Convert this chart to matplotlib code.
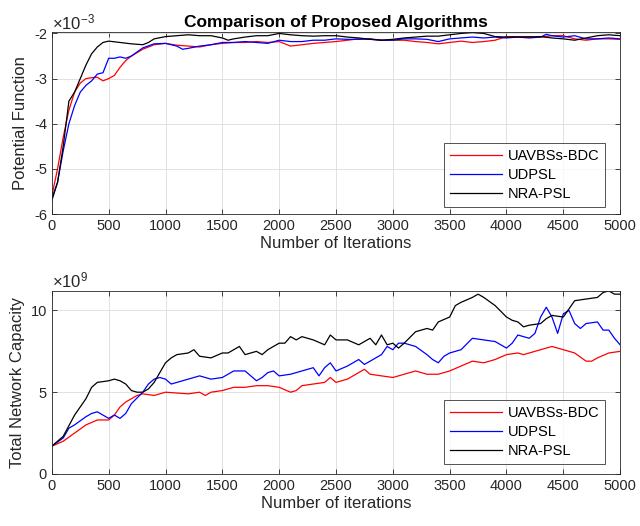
import matplotlib
matplotlib.use("Agg")
import matplotlib.pyplot as plt

plt.rcParams['font.family'] = ['Liberation Sans', 'DejaVu Sans']
plt.rcParams['mathtext.fontset'] = 'custom'
plt.rcParams['mathtext.rm'] = 'Liberation Sans'
plt.rcParams['mathtext.it'] = 'Liberation Sans'

# ---------------- data: top panel (Potential Function, x1e-3) ----------------
pf_red_x = [0, 50, 100, 150, 200, 250, 300, 350, 400, 450, 500, 550, 600, 650, 700,
            800, 900, 1000, 1100, 1200, 1300, 1400, 1500, 1600, 1700, 1800, 1900, 2000,
            2100, 2200, 2300, 2400, 2500, 2600, 2700, 2800, 2900, 3000, 3100, 3200,
            3300, 3400, 3500, 3600, 3700, 3800, 3900, 4000, 4100, 4200, 4300, 4400,
            4500, 4600, 4700, 4800, 4900, 5000]
pf_red_y = [-5.6, -5.0, -4.3, -3.7, -3.3, -3.1, -3.0, -2.98, -2.97, -3.05, -3.0, -2.93,
            -2.75, -2.6, -2.5, -2.35, -2.25, -2.22, -2.26, -2.28, -2.3, -2.25, -2.22,
            -2.2, -2.2, -2.18, -2.2, -2.18, -2.28, -2.25, -2.22, -2.2, -2.18, -2.15,
            -2.12, -2.13, -2.15, -2.15, -2.15, -2.18, -2.2, -2.23, -2.2, -2.17, -2.2,
            -2.18, -2.15, -2.07, -2.07, -2.07, -2.08, -2.05, -2.05, -2.12, -2.15,
            -2.12, -2.12, -2.13]

pf_blue_x = [0, 50, 100, 150, 200, 250, 300, 350, 400, 450, 500, 550, 600, 650, 700,
             800, 900, 1000, 1100, 1150, 1200, 1300, 1400, 1500, 1600, 1700, 1800, 1900,
             2000, 2100, 2200, 2300, 2400, 2500, 2600, 2700, 2800, 2900, 3000, 3100,
             3200, 3300, 3400, 3500, 3600, 3700, 3800, 3900, 4000, 4100, 4200, 4300,
             4350, 4400, 4500, 4600, 4700, 4800, 4900, 5000]
pf_blue_y = [-5.65, -5.3, -4.6, -4.0, -3.6, -3.3, -3.15, -3.05, -2.9, -2.87, -2.55,
             -2.55, -2.52, -2.55, -2.5, -2.32, -2.23, -2.22, -2.28, -2.35, -2.33, -2.28,
             -2.25, -2.2, -2.2, -2.18, -2.2, -2.22, -2.15, -2.18, -2.18, -2.15, -2.15,
             -2.12, -2.13, -2.13, -2.12, -2.15, -2.15, -2.12, -2.12, -2.13, -2.18,
             -2.12, -2.1, -2.08, -2.1, -2.08, -2.1, -2.08, -2.1, -2.08, -2.02, -2.05,
             -2.08, -2.05, -2.12, -2.12, -2.1, -2.12]

pf_black_x = [0, 25, 50, 100, 150, 200, 250, 300, 350, 400, 450, 500, 600, 700, 800,
              850, 900, 1000, 1100, 1200, 1300, 1400, 1500, 1550, 1600, 1700, 1800,
              1900, 2000, 2100, 2200, 2300, 2400, 2500, 2600, 2700, 2800, 2900, 3000,
              3100, 3200, 3300, 3400, 3500, 3600, 3700, 3800, 3900, 4000, 4100, 4200,
              4300, 4400, 4500, 4600, 4700, 4800, 4900, 5000]
pf_black_y = [-5.7, -5.5, -5.3, -4.5, -3.5, -3.3, -3.0, -2.7, -2.45, -2.3, -2.2, -2.17,
              -2.2, -2.23, -2.25, -2.2, -2.12, -2.07, -2.05, -2.03, -2.05, -2.05, -2.1,
              -2.15, -2.12, -2.08, -2.05, -2.05, -2.0, -2.03, -2.05, -2.06, -2.05,
              -2.05, -2.08, -2.1, -2.13, -2.15, -2.13, -2.1, -2.08, -2.06, -2.06,
              -2.03, -2.0, -1.98, -2.0, -2.07, -2.08, -2.08, -2.08, -2.07, -2.1, -2.12,
              -2.15, -2.1, -2.05, -2.03, -2.05]

# ---------------- data: bottom panel (Total Network Capacity, x1e9) ----------------
cap_red_x = [0, 100, 200, 300, 400, 500, 550, 600, 650, 700, 750, 800, 900, 1000, 1100,
             1200, 1300, 1350, 1400, 1500, 1600, 1700, 1800, 1900, 2000, 2100, 2150,
             2200, 2300, 2400, 2450, 2500, 2600, 2700, 2750, 2800, 2900, 3000, 3100,
             3200, 3300, 3400, 3500, 3600, 3700, 3800, 3900, 4000, 4100, 4150, 4200,
             4300, 4400, 4500, 4600, 4700, 4750, 4800, 4900, 5000]
cap_red_y = [1.7, 2.0, 2.5, 3.0, 3.3, 3.3, 3.6, 4.1, 4.4, 4.6, 4.8, 4.9, 4.8, 5.0, 4.95,
             4.9, 5.0, 4.8, 5.0, 5.1, 5.3, 5.3, 5.4, 5.4, 5.3, 5.0, 5.1, 5.4, 5.5, 5.6,
             5.9, 5.6, 5.8, 6.2, 6.4, 6.1, 6.0, 5.9, 6.1, 6.3, 6.1, 6.1, 6.3, 6.6, 6.9,
             6.8, 7.0, 7.3, 7.4, 7.3, 7.4, 7.6, 7.8, 7.6, 7.4, 6.9, 6.9, 7.1, 7.4, 7.5]

cap_blue_x = [0, 100, 150, 200, 300, 350, 400, 450, 500, 550, 600, 650, 700, 800, 850,
              900, 950, 1000, 1050, 1100, 1200, 1300, 1400, 1500, 1600, 1700, 1800,
              1850, 1900, 1950, 2000, 2100, 2200, 2300, 2350, 2400, 2450, 2500, 2600,
              2700, 2750, 2800, 2900, 2950, 3000, 3050, 3100, 3200, 3300, 3350, 3400,
              3450, 3500, 3600, 3700, 3800, 3900, 4000, 4050, 4100, 4200, 4250, 4300,
              4350, 4400, 4450, 4500, 4550, 4600, 4650, 4700, 4800, 4850, 4900, 4950,
              5000]
cap_blue_y = [1.7, 2.2, 2.8, 3.0, 3.5, 3.7, 3.8, 3.6, 3.4, 3.6, 3.4, 3.7, 4.3, 5.0, 5.5,
              5.8, 5.9, 5.8, 5.5, 5.6, 5.8, 6.0, 5.8, 5.9, 6.3, 6.3, 5.7, 5.9, 6.2, 6.3,
              6.0, 6.1, 6.3, 6.5, 6.0, 6.5, 6.8, 6.3, 6.6, 7.0, 6.7, 6.9, 7.3, 7.8, 7.6,
              8.0, 8.0, 7.8, 7.3, 7.0, 6.8, 7.2, 7.4, 7.6, 8.3, 8.2, 8.1, 7.7, 8.0, 8.5,
              8.3, 8.6, 9.6, 10.2, 9.6, 8.6, 9.8, 10.0, 9.2, 8.9, 9.2, 9.3, 8.8, 8.8,
              8.3, 7.9]

cap_black_x = [0, 100, 200, 300, 350, 400, 500, 550, 600, 650, 700, 750, 800, 850, 900,
               950, 1000, 1050, 1100, 1200, 1250, 1300, 1400, 1500, 1550, 1600, 1650,
               1700, 1800, 1850, 1900, 2000, 2050, 2100, 2150, 2200, 2300, 2400, 2450,
               2500, 2600, 2700, 2800, 2850, 2900, 2950, 3000, 3050, 3100, 3200, 3300,
               3350, 3400, 3500, 3550, 3600, 3700, 3750, 3800, 3900, 4000, 4050, 4100,
               4150, 4200, 4300, 4350, 4400, 4500, 4550, 4600, 4700, 4800, 4850, 4900,
               4950, 5000]
cap_black_y = [1.7, 2.3, 3.6, 4.6, 5.3, 5.6, 5.7, 5.8, 5.7, 5.5, 5.1, 5.0, 5.0, 5.2, 5.6,
               6.2, 6.8, 7.1, 7.3, 7.4, 7.6, 7.2, 7.1, 7.4, 7.4, 7.6, 7.8, 7.3, 7.5, 7.3,
               7.6, 8.0, 8.0, 8.4, 8.2, 8.4, 8.2, 7.9, 8.5, 8.2, 8.2, 7.9, 8.3, 7.9, 8.5,
               7.9, 8.0, 7.7, 8.0, 8.7, 8.9, 8.8, 9.3, 9.6, 10.3, 10.5, 10.8, 11.0, 10.8,
               10.3, 9.6, 9.4, 9.3, 9.0, 9.1, 9.2, 9.5, 9.7, 9.6, 10.1, 10.6, 10.7, 10.8,
               11.1, 11.2, 11.0, 11.0]

legend_labels = ['UAVBSs-BDC', 'UDPSL', 'NRA-PSL']
xticks = [0, 500, 1000, 1500, 2000, 2500, 3000, 3500, 4000, 4500, 5000]

fig = plt.figure(figsize=(6.4, 5.26), dpi=100)
ax1 = fig.add_axes([0.081, 0.593, 0.888, 0.346])
ax2 = fig.add_axes([0.081, 0.099, 0.888, 0.348])

axcol = '#262626'
lw = 0.9


def style(ax):
    ax.set_xlim(0, 5000)
    ax.set_xticks(xticks)
    ax.grid(True, color='#dcdcdc', linewidth=0.6)
    ax.set_axisbelow(True)
    ax.tick_params(direction='in', length=3.5, width=0.6, colors=axcol,
                   labelsize=10.5, top=True, right=True, labelcolor='#262626')
    for s in ax.spines.values():
        s.set_color(axcol)
        s.set_linewidth(0.6)


ax1.plot(pf_red_x, pf_red_y, color='red', lw=lw, label=legend_labels[0])
ax1.plot(pf_blue_x, pf_blue_y, color='blue', lw=lw, label=legend_labels[1])
ax1.plot(pf_black_x, pf_black_y, color='black', lw=lw, label=legend_labels[2])
style(ax1)
ax1.set_ylim(-6, -1.97)
ax1.set_yticks([-6, -5, -4, -3, -2])
ax1.set_yticklabels(['-6', '-5', '-4', '-3', '-2'])
ax1.set_xlabel('Number of Iterations', fontsize=12, color='#262626', labelpad=2)
ax1.set_ylabel('Potential Function', fontsize=12, color='#262626', labelpad=4)
ax1.set_title('Comparison of Proposed Algorithms', fontsize=12.5, fontweight='bold', pad=4)
ax1.text(0.0, 1.0, r'$\times10^{-3}$', transform=ax1.transAxes, fontsize=12,
         color='#262626', ha='left', va='bottom')
leg1 = ax1.legend(loc='lower right', bbox_to_anchor=(0.974, 0.038), fontsize=10.5,
                  frameon=True, fancybox=False, edgecolor='#262626', handlelength=3.6,
                  borderpad=0.4, labelspacing=0.35, handletextpad=0.4, borderaxespad=0)
leg1.get_frame().set_linewidth(0.7)

ax2.plot(cap_red_x, cap_red_y, color='red', lw=lw, label=legend_labels[0])
ax2.plot(cap_blue_x, cap_blue_y, color='blue', lw=lw, label=legend_labels[1])
ax2.plot(cap_black_x, cap_black_y, color='black', lw=lw, label=legend_labels[2])
style(ax2)
ax2.set_ylim(0, 11.2)
ax2.set_yticks([0, 5, 10])
ax2.set_xlabel('Number of iterations', fontsize=12, color='#262626', labelpad=2)
ax2.set_ylabel('Total Network Capacity', fontsize=12, color='#262626', labelpad=4)
ax2.text(0.0, 1.0, r'$\times10^{9}$', transform=ax2.transAxes, fontsize=12,
         color='#262626', ha='left', va='bottom')
leg2 = ax2.legend(loc='lower right', bbox_to_anchor=(0.974, 0.055), fontsize=10.5,
                  frameon=True, fancybox=False, edgecolor='#262626', handlelength=3.6,
                  borderpad=0.4, labelspacing=0.35, handletextpad=0.4, borderaxespad=0)
leg2.get_frame().set_linewidth(0.7)

fig.savefig('out.png', dpi=100)
